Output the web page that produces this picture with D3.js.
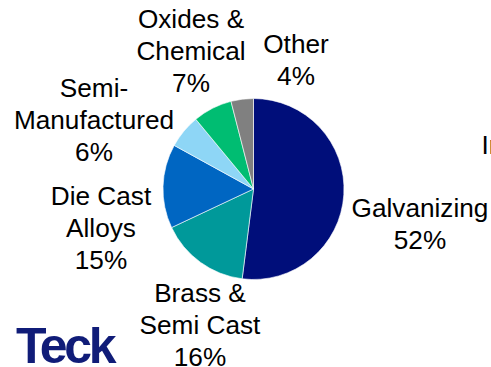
<!DOCTYPE html>
<html>
<head>
<meta charset="utf-8">
<script src="https://cdn.jsdelivr.net/npm/d3@7"></script>
<style>
  html, body { margin: 0; padding: 0; background: #fff; }
  svg { display: block; }
</style>
</head>
<body>
<svg id="chart" width="491" height="367"></svg>
<script>
// Zinc end-use breakdown, clockwise from 12 o'clock
const categories = ["Galvanizing", "Brass & Semi Cast", "Die Cast Alloys", "Semi-Manufactured", "Oxides & Chemical", "Other"];
const values = [52, 16, 15, 6, 7, 4];
const colors = ["#000e7a", "#00999a", "#0066c2", "#8ed6f6", "#00bd72", "#808080"];
// Label lines per slice (last line is the percentage)
const labelLines = [
  ["Galvanizing"],
  ["Brass &", "Semi Cast"],
  ["Die Cast", "Alloys"],
  ["Semi-", "Manufactured"],
  ["Oxides &", "Chemical"],
  ["Other"]
];

const svg = d3.select("#chart");
const cx = 253.5, cy = 189, r = 90.5;

const pie = d3.pie().sort(null).value(d => d.value);
const arc = d3.arc().innerRadius(0).outerRadius(r);
const data = categories.map((c, i) => ({ name: c, value: values[i], color: colors[i], lines: labelLines[i] }));
const arcs = pie(data);

const g = svg.append("g").attr("transform", `translate(${cx},${cy})`);
g.selectAll("path")
  .data(arcs)
  .join("path")
  .attr("d", arc)
  .attr("fill", d => d.data.color)
  .attr("stroke", "#ffffff")
  .attr("stroke-width", 0.6);

// Label anchor points (centre x, first baseline y)
const labelPos = {
  "Galvanizing": [420, 217],
  "Brass & Semi Cast": [200, 302],
  "Die Cast Alloys": [101, 205],
  "Semi-Manufactured": [94, 97],
  "Oxides & Chemical": [191, 28],
  "Other": [296, 53]
};
const lineH = 31.8;
const fontSize = 26.2;
const font = "'Liberation Sans', Arial, sans-serif";

arcs.forEach(a => {
  const [x, y] = labelPos[a.data.name];
  const lines = a.data.lines.concat([a.data.value + "%"]);
  const t = svg.append("text")
    .attr("text-anchor", "middle")
    .attr("font-family", font)
    .attr("font-size", fontSize)
    .attr("fill", "#000");
  lines.forEach((ln, i) => {
    t.append("tspan").attr("x", x).attr("y", y + i * lineH).text(ln);
  });
});

// Adjacent label partly outside the frame
svg.append("text")
  .attr("x", 481.5).attr("y", 154)
  .attr("font-family", font)
  .attr("font-size", fontSize)
  .attr("fill", "#000")
  .text("In");

// Company wordmark
svg.append("text")
  .attr("x", 16).attr("y", 362.5)
  .attr("font-family", font)
  .attr("font-weight", "bold")
  .attr("font-size", 50)
  .attr("letter-spacing", -3.2)
  .attr("fill", "#101c78")
  .text("Teck");
</script>
</body>
</html>
